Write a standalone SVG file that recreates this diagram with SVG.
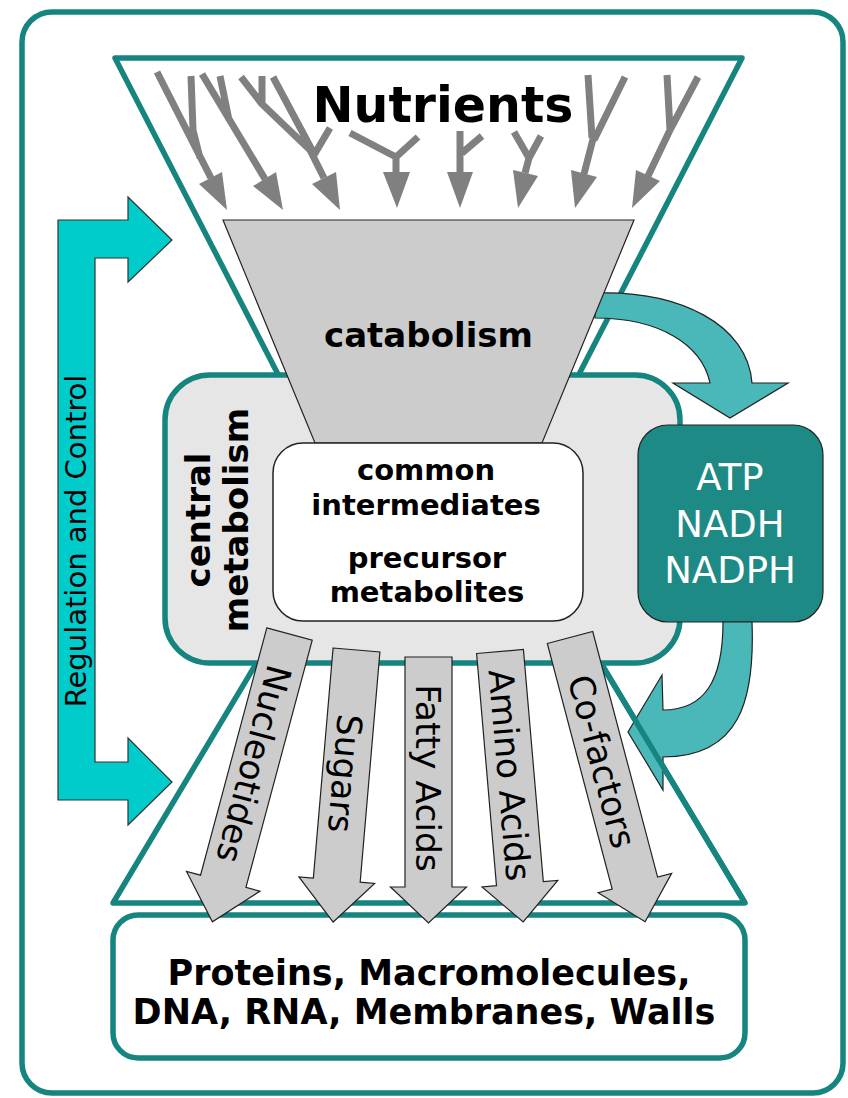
<svg xmlns="http://www.w3.org/2000/svg" width="848" height="1098" viewBox="0 0 848 1098">
<defs>
<style>
.teal{stroke:#168580;stroke-width:5.5;stroke-linejoin:round}
.nut{fill:none;stroke:#808080;stroke-width:7;stroke-linejoin:round}
.nuth{fill:#808080}
.barrow{fill:#cccccc;stroke:#222;stroke-width:1.2}
.lbl{font-family:"DejaVu Sans","Liberation Sans",sans-serif;font-size:34.5px;fill:#000}
.bold{font-family:"DejaVu Sans","Liberation Sans",sans-serif;font-weight:bold;fill:#000}
.curv{fill:#4ab8b8;stroke:#222;stroke-width:1.2;stroke-linejoin:miter}
</style>
</defs>
<rect x="0" y="0" width="848" height="1098" fill="#fff"/>
<g id="frame"><rect x="22" y="12" width="821" height="1081" rx="30" class="teal" fill="#fff"/></g>

<g id="regulation">
<polygon points="58,220 128,220 128,197 172,240 128,282 128,258 95,258 95,762 128,762 128,738 172,782 128,825 128,800 58,800" fill="#00cccc" stroke="#333" stroke-width="1.2"/>
<text transform="translate(86,541) rotate(-90)" text-anchor="middle" font-family="DejaVu Sans, Liberation Sans, sans-serif" font-size="29">Regulation and Control</text>
</g>

<g id="hourglass">
<polygon points="115,58 742,58 509,510 745,903 113,903 348,510" fill="#fff" class="teal"/>
</g>

<g id="nutrients">
<text x="443" y="122" text-anchor="middle" class="bold" font-size="49">Nutrients</text>
<g id="nutrient-arrows">
<path class="nut" d="M157,72 L211,178 M191,76 L193,130 L200,158"/>
<polygon class="nuth" points="199,184 222,172 227,210"/>
<path class="nut" d="M202,74 L265,179 M220,76 L229,120"/>
<polygon class="nuth" points="253,186 276,172 283,210"/>
<path class="nut" d="M241,77 L262,104 L310,150 L324,178 M262,76 L262,104 M273,77 L312,150 M330,128 L314,155"/>
<polygon class="nuth" points="312,184 336,172 340,210"/>
<path class="nut" d="M350,133 L396,157 L418,137 M396,157 L396,173"/>
<polygon class="nuth" points="383,172 410,172 397,208"/>
<path class="nut" d="M460,131 L460,173 M482,136 L462,153"/>
<polygon class="nuth" points="447,172 473,172 460,208"/>
<path class="nut" d="M514,132 L529,158 L541,136 M529,158 L525,173"/>
<polygon class="nuth" points="513,170 538,176 518,208"/>
<path class="nut" d="M588,75 L592,138 M625,77 L594,140 M593,139 L584,174"/>
<polygon class="nuth" points="571,170 597,177 575,208"/>
<path class="nut" d="M667,75 L670,130 M698,77 L670,130 L648,176"/>
<polygon class="nuth" points="636,170 660,181 632,208"/>
</g>
</g>

<g id="products"><rect x="113" y="915" width="632" height="143" rx="25" class="teal" fill="#fff"/>
<text x="429" y="985" text-anchor="middle" class="bold" font-size="35">Proteins, Macromolecules,</text>
<text x="424" y="1024" text-anchor="middle" class="bold" font-size="35">DNA, RNA, Membranes, Walls</text>
</g>

<g id="connectors">
<path id="energy-out" class="curv" d="M595,293 C680,290 748,325 752,383 L788,383 L730,418 L673,383 L710,383 C702,345 660,318 595,318 Z"/>
</g>

<g id="central"><rect x="165" y="375" width="515" height="288" rx="45" class="teal" fill="#e6e6e6"/>
<text transform="translate(210,520) rotate(-90)" text-anchor="middle" class="bold" font-size="34">central</text>
<text transform="translate(248,520) rotate(-90)" text-anchor="middle" class="bold" font-size="34">metabolism</text>
</g>

<g id="catabolism">
<polygon points="223,220 634,220 542,443 315,443" fill="#cccccc" stroke="#222" stroke-width="1.2"/>
<text x="428.5" y="347" text-anchor="middle" class="bold" font-size="34">catabolism</text>
</g>

<g id="intermediates"><rect x="273" y="443" width="310" height="178" rx="30" fill="#fff" stroke="#222" stroke-width="1.5"/>
<text x="426" y="480" text-anchor="middle" class="bold" font-size="29">common</text>
<text x="426" y="515" text-anchor="middle" class="bold" font-size="29">intermediates</text>
<text x="427" y="568" text-anchor="middle" class="bold" font-size="29">precursor</text>
<text x="427" y="602" text-anchor="middle" class="bold" font-size="29">metabolites</text>
</g>

<g id="energy"><rect x="638" y="425" width="185" height="197" rx="30" fill="#1e8a85" stroke="#222" stroke-width="1.2"/>
<text x="730" y="490" text-anchor="middle" font-family="DejaVu Sans, Liberation Sans, sans-serif" font-size="37" fill="#fff">ATP</text>
<text x="730" y="537" text-anchor="middle" font-family="DejaVu Sans, Liberation Sans, sans-serif" font-size="37" fill="#fff">NADH</text>
<text x="730" y="583" text-anchor="middle" font-family="DejaVu Sans, Liberation Sans, sans-serif" font-size="37" fill="#fff">NADPH</text>
</g>

<g id="connectors2">
<path id="energy-in" class="curv" d="M723,622 C723,680 705,710 663,710 L662,675 L628,732 L663,790 L663,757 C740,757 755,700 752,622 Z"/>
<line x1="602" y1="665" x2="745" y2="903" stroke="#168580" stroke-width="5.5"/>
</g>

<g id="biosynthesis">
<g id="nucleotides" transform="translate(289.5,634) rotate(15)">
<polygon class="barrow" points="-23.5,0 23.5,0 23.5,256 38,256 0,298 -38,256 -23.5,256"/>
<text class="lbl" transform="translate(-13,135) rotate(90)" text-anchor="middle">Nucleotides</text></g>
<g id="sugars" transform="translate(356.5,650) rotate(4.9)">
<polygon class="barrow" points="-23.5,0 23.5,0 23.5,231 38,231 0,273 -38,231 -23.5,231"/>
<text class="lbl" transform="translate(-13,124) rotate(90)" text-anchor="middle">Sugars</text></g>
<g id="fatty" transform="translate(428.5,657)">
<polygon class="barrow" points="-23.5,0 23.5,0 23.5,230 38,230 0,266 -38,230 -23.5,230"/>
<text class="lbl" transform="translate(-13,121) rotate(90)" text-anchor="middle">Fatty Acids</text></g>
<g id="amino" transform="translate(500,651.5) rotate(-4.9)">
<polygon class="barrow" points="-23.5,0 23.5,0 23.5,233 38,233 0,271.5 -38,233 -23.5,233"/>
<text class="lbl" transform="translate(-13,124) rotate(90)" text-anchor="middle">Amino Acids</text></g>
<g id="cofactors" transform="translate(570,637.5) rotate(-14.8)">
<polygon class="barrow" points="-23.5,0 23.5,0 23.5,254 38,254 0,294 -38,254 -23.5,254"/>
<text class="lbl" transform="translate(-13,128) rotate(90)" text-anchor="middle">Co-factors</text></g>
</g>
</svg>
